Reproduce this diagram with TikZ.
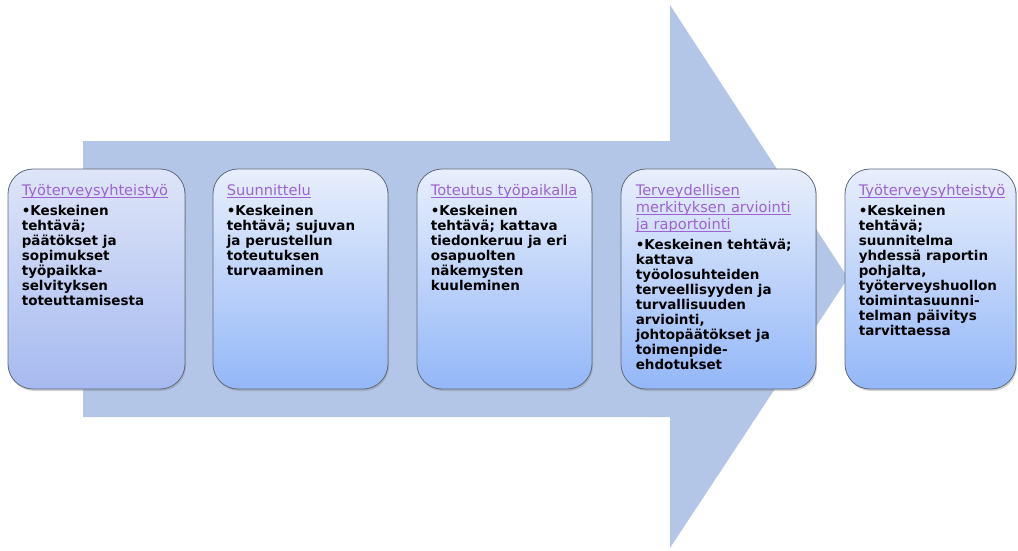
\documentclass[tikz,border=0pt]{standalone}
\usepackage{fontspec}
\setmainfont{DejaVu Sans}
\usetikzlibrary{shadows}
\definecolor{arrowblue}{HTML}{B4C6E7}
\definecolor{titlepurple}{HTML}{9E62D3}
\definecolor{boxtop}{HTML}{E8EFFC}
\definecolor{boxbot}{HTML}{93B7F8}
\definecolor{boxtopA}{HTML}{DEE5F8}
\definecolor{boxbotA}{HTML}{A6BAF0}
\definecolor{boxline}{HTML}{5F6B7A}
\newcommand{\ttl}[1]{\leavevmode{\fontsize{14.6}{17}\selectfont\color{titlepurple}\setbox2\hbox{#1}\rlap{\rule[-1.8pt]{\wd2}{0.7pt}}\box2}}
\newcommand{\bulpar}[1]{\par\vspace{5pt}{\fontsize{13.5}{15}\selectfont\bfseries\setbox0\hbox{•}\hangindent=\wd0\hangafter=1\noindent•#1\par}}
\tikzset{
  stagebox/.style={draw=boxline, line width=0.8pt, rounded corners=25pt, top color=boxtop, bottom color=boxbot,
    drop shadow={opacity=0.35, shadow xshift=1pt, shadow yshift=-2pt}, inner sep=0pt, minimum height=220pt},
  stagetext/.style={anchor=north west, inner sep=0pt, align=left, font=\fontsize{14.6}{17}\selectfont},
  bigarrow/.style={fill=arrowblue, draw=none}
}
\begin{document}
\begin{tikzpicture}[x=1pt,y=-1pt]
\useasboundingbox (0,0) rectangle (1018,551);
% big arrow
\fill[bigarrow] (83,141) -- (670,141) -- (670,5) -- (848,278) -- (670,548) -- (670,417) -- (83,417) -- cycle;
% boxes
\node[stagebox, minimum width=177pt, top color=boxtopA, bottom color=boxbotA] (b1) at (96.5,279) {};
\node[stagebox, minimum width=175pt] (b2) at (300.5,279) {};
\node[stagebox, minimum width=175pt] (b3) at (504.5,279) {};
\node[stagebox, minimum width=195pt] (b4) at (718.5,279) {};
\node[stagebox, minimum width=171pt] (b5) at (930.5,279) {};
% texts
\node[stagetext, text width=160pt] (t1) at ([shift={(14pt,-16pt)}]b1.north west) {\ttl{Työterveysyhteistyö}%
\bulpar{Keskeinen\\tehtävä;\\päätökset ja\\sopimukset\\työpaikka-\\selvityksen\\toteuttamisesta}};
\node[stagetext, text width=160pt] (t2) at ([shift={(14pt,-16pt)}]b2.north west) {\ttl{Suunnittelu}%
\bulpar{Keskeinen\\tehtävä; sujuvan\\ja perustellun\\toteutuksen\\turvaaminen}};
\node[stagetext, text width=160pt] (t3) at ([shift={(14pt,-16pt)}]b3.north west) {\ttl{Toteutus työpaikalla}%
\bulpar{Keskeinen\\tehtävä; kattava\\tiedonkeruu ja eri\\osapuolten\\näkemysten\\kuuleminen}};
\node[stagetext, text width=180pt] (t4) at ([shift={(15pt,-16pt)}]b4.north west) {\ttl{Terveydellisen}\\\ttl{merkityksen arviointi}\\\ttl{ja raportointi}%
\bulpar{Keskeinen tehtävä;\\kattava\\työolosuhteiden\\terveellisyyden ja\\turvallisuuden\\arviointi,\\johtopäätökset ja\\toimenpide-\\ehdotukset}};
\node[stagetext, text width=160pt] (t5) at ([shift={(14pt,-16pt)}]b5.north west) {\ttl{Työterveysyhteistyö}%
\bulpar{Keskeinen\\tehtävä;\\suunnitelma\\yhdessä raportin\\pohjalta,\\työterveyshuollon\\toimintasuunni-\\telman päivitys\\tarvittaessa}};
\end{tikzpicture}
\end{document}
